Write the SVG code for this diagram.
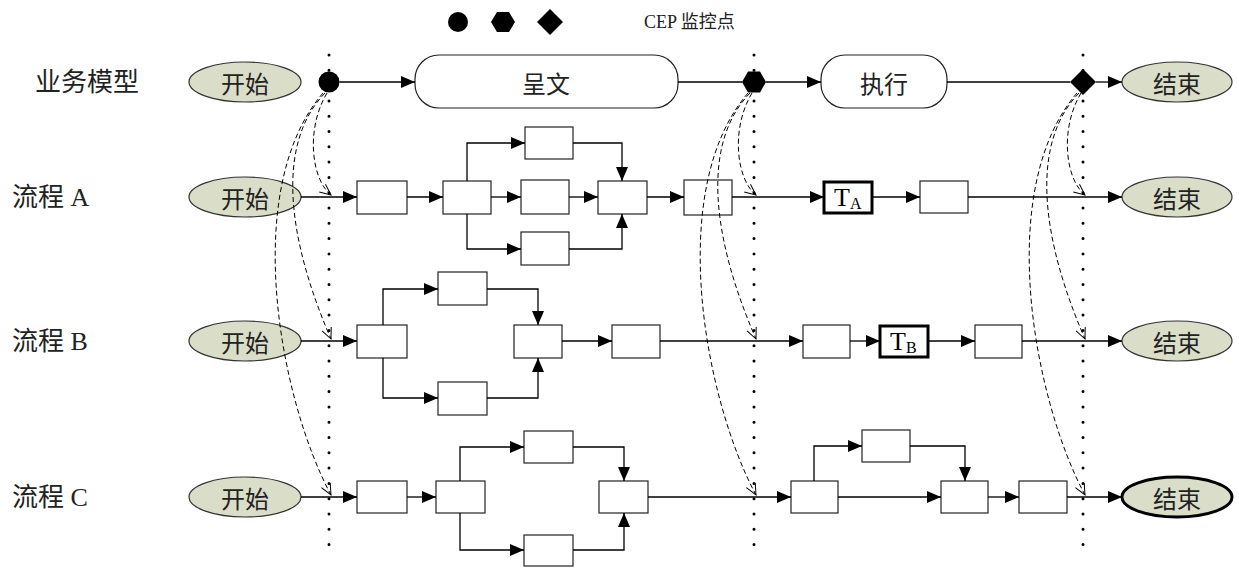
<svg xmlns="http://www.w3.org/2000/svg" width="1239" height="570" viewBox="0 0 1239 570">
<defs>
<style>
.box{fill:#fff;stroke:#222;stroke-width:1.2}
.thick{fill:#fff;stroke:#000;stroke-width:3}
.ell{fill:#dadec8;stroke:#333;stroke-width:1.2}
.rr{fill:#fff;stroke:#222;stroke-width:1.2}
.cn{font-family:'Noto Sans CJK SC',sans-serif;font-size:24px;fill:#222}
.lbl{font-family:'Liberation Serif','Noto Sans CJK SC',serif;font-size:26px;fill:#222}
.t{font-family:'Liberation Serif',serif;font-size:26px;fill:#000}
.ln{fill:none;stroke:#000;stroke-width:1.3}
.dash{fill:none;stroke:#000;stroke-width:1;stroke-dasharray:5 3}
.dot{stroke:#000;stroke-width:3;stroke-dasharray:0 15.3;stroke-linecap:round}
</style>
<marker id="ah" markerWidth="14" markerHeight="12" refX="14" refY="6" orient="auto" markerUnits="userSpaceOnUse"><path d="M0,0 L14,6 L0,12 z" fill="#000"/></marker>
<marker id="oa" markerWidth="12" markerHeight="10" refX="11" refY="5" orient="auto" markerUnits="userSpaceOnUse" overflow="visible"><path d="M0,0 L11,5 L0,10" fill="none" stroke="#000" stroke-width="1"/></marker>
</defs>
<rect width="1239" height="570" fill="#fff"/>

<g id="dotted-lines">
<line class="dot" x1="329" y1="55" x2="329" y2="546"/>
<line class="dot" x1="754" y1="55" x2="754" y2="546"/>
<line class="dot" x1="1083" y1="55" x2="1083" y2="546"/>
</g>

<g id="legend">
<circle cx="458" cy="22" r="10" fill="#000"/>
<polygon points="491,22 497,12 509,12 515,22 509,32 497,32" fill="#000"/>
<polygon points="550,9 563,22 550,35 537,22" fill="#000"/>
<text x="644" y="22" dominant-baseline="central" class="lbl" style="font-size:18px">CEP 监控点</text>
</g>

<g id="labels">
<text x="35" y="82" dominant-baseline="central" class="lbl">业务模型</text>
<text x="12" y="197" dominant-baseline="central" class="lbl">流程 A</text>
<text x="12" y="341" dominant-baseline="central" class="lbl">流程 B</text>
<text x="12" y="497" dominant-baseline="central" class="lbl">流程 C</text>
</g>

<g id="bm-start"><ellipse class="ell" cx="245" cy="82" rx="56" ry="20"/><text class="cn" x="245" y="82" text-anchor="middle" dominant-baseline="central">开始</text></g>
<g id="cp1"><circle cx="329" cy="82" r="10.5" fill="#000"/></g>
<g id="bm-chengwen"><rect class="rr" x="415" y="55" width="263" height="53" rx="24"/><text class="cn" x="546" y="82" text-anchor="middle" dominant-baseline="central">呈文</text></g>
<g id="cp2"><polygon points="742,82 748,71.5 760,71.5 766,82 760,92.5 748,92.5" fill="#000"/></g>
<g id="bm-zhixing"><rect class="rr" x="821" y="55" width="126" height="53" rx="24"/><text class="cn" x="884" y="82" text-anchor="middle" dominant-baseline="central">执行</text></g>
<g id="cp3"><polygon points="1083,69 1096,82 1083,95 1070,82" fill="#000"/></g>
<g id="bm-end"><ellipse class="ell" cx="1177" cy="82" rx="55" ry="20"/><text class="cn" x="1177" y="82" text-anchor="middle" dominant-baseline="central">结束</text></g>

<g id="a-start"><ellipse class="ell" cx="245" cy="197" rx="56" ry="20"/><text class="cn" x="245" y="197" text-anchor="middle" dominant-baseline="central">开始</text></g>
<g id="a1"><rect class="box" x="357" y="181" width="50" height="33"/></g>
<g id="a2"><rect class="box" x="443" y="181" width="48" height="33"/></g>
<g id="a3"><rect class="box" x="525" y="127" width="48" height="32"/></g>
<g id="a4"><rect class="box" x="521" y="180" width="48" height="34"/></g>
<g id="a5"><rect class="box" x="521" y="232" width="48" height="33"/></g>
<g id="a6"><rect class="box" x="598" y="181" width="49" height="33"/></g>
<g id="a7"><rect class="box" x="684" y="180" width="48" height="35"/></g>
<g id="a-ta"><rect class="thick" x="824" y="182" width="48" height="31"/><text class="t" x="834" y="206">T<tspan font-size="16" dy="3">A</tspan></text></g>
<g id="a8"><rect class="box" x="920" y="181" width="48" height="32"/></g>
<g id="a-end"><ellipse class="ell" cx="1177" cy="197" rx="55" ry="20"/><text class="cn" x="1177" y="197" text-anchor="middle" dominant-baseline="central">结束</text></g>

<g id="b-start"><ellipse class="ell" cx="245" cy="341" rx="56" ry="20"/><text class="cn" x="245" y="341" text-anchor="middle" dominant-baseline="central">开始</text></g>
<g id="b1"><rect class="box" x="357" y="325" width="50" height="33"/></g>
<g id="b2"><rect class="box" x="438" y="272" width="49" height="33"/></g>
<g id="b3"><rect class="box" x="438" y="382" width="49" height="33"/></g>
<g id="b4"><rect class="box" x="514" y="325" width="48" height="33"/></g>
<g id="b5"><rect class="box" x="612" y="325" width="48" height="33"/></g>
<g id="b6"><rect class="box" x="803" y="325" width="47" height="33"/></g>
<g id="b-tb"><rect class="thick" x="880" y="326" width="48" height="31"/><text class="t" x="890" y="350">T<tspan font-size="16" dy="3">B</tspan></text></g>
<g id="b7"><rect class="box" x="975" y="325" width="47" height="33"/></g>
<g id="b-end"><ellipse class="ell" cx="1177" cy="341" rx="55" ry="20"/><text class="cn" x="1177" y="341" text-anchor="middle" dominant-baseline="central">结束</text></g>

<g id="c-start"><ellipse class="ell" cx="245" cy="497" rx="56" ry="20"/><text class="cn" x="245" y="497" text-anchor="middle" dominant-baseline="central">开始</text></g>
<g id="c1"><rect class="box" x="357" y="481" width="50" height="32"/></g>
<g id="c2"><rect class="box" x="436" y="481" width="49" height="32"/></g>
<g id="c3"><rect class="box" x="524" y="431" width="49" height="32"/></g>
<g id="c4"><rect class="box" x="524" y="535" width="49" height="31"/></g>
<g id="c5"><rect class="box" x="599" y="481" width="49" height="32"/></g>
<g id="c6"><rect class="box" x="791" y="481" width="47" height="32"/></g>
<g id="c7"><rect class="box" x="862" y="430" width="48" height="32"/></g>
<g id="c8"><rect class="box" x="941" y="481" width="47" height="32"/></g>
<g id="c9"><rect class="box" x="1019" y="481" width="48" height="32"/></g>
<g id="c-end"><ellipse cx="1177" cy="497" rx="55" ry="20" fill="#dadec8" stroke="#000" stroke-width="3"/><text class="cn" x="1177" y="497" text-anchor="middle" dominant-baseline="central">结束</text></g>

<g id="connectors">
<path class="ln" d="M339.5 82 H415" marker-end="url(#ah)"/>
<path class="ln" d="M678 82 H742"/>
<path class="ln" d="M766 82 H821" marker-end="url(#ah)"/>
<path class="ln" d="M947 82 H1070"/>
<path class="ln" d="M1096 82 H1122" marker-end="url(#ah)"/>

<path class="ln" d="M301 197 H357" marker-end="url(#ah)"/>
<path class="ln" d="M407 197 H443" marker-end="url(#ah)"/>
<path class="ln" d="M467 181 V143 H525" marker-end="url(#ah)"/>
<path class="ln" d="M573 143 H622 V181" marker-end="url(#ah)"/>
<path class="ln" d="M491 197 H521" marker-end="url(#ah)"/>
<path class="ln" d="M569 197 H598" marker-end="url(#ah)"/>
<path class="ln" d="M467 214 V249 H521" marker-end="url(#ah)"/>
<path class="ln" d="M569 249 H622 V214" marker-end="url(#ah)"/>
<path class="ln" d="M647 197 H684" marker-end="url(#ah)"/>
<path class="ln" d="M732 197 H824" marker-end="url(#ah)"/>
<path class="ln" d="M872 197 H920" marker-end="url(#ah)"/>
<path class="ln" d="M968 197 H1122" marker-end="url(#ah)"/>

<path class="ln" d="M301 341 H357" marker-end="url(#ah)"/>
<path class="ln" d="M383 325 V289 H438" marker-end="url(#ah)"/>
<path class="ln" d="M487 289 H538 V325" marker-end="url(#ah)"/>
<path class="ln" d="M383 358 V398 H438" marker-end="url(#ah)"/>
<path class="ln" d="M487 398 H538 V358" marker-end="url(#ah)"/>
<path class="ln" d="M562 341 H612" marker-end="url(#ah)"/>
<path class="ln" d="M660 341 H803" marker-end="url(#ah)"/>
<path class="ln" d="M850 341 H880" marker-end="url(#ah)"/>
<path class="ln" d="M928 341 H975" marker-end="url(#ah)"/>
<path class="ln" d="M1022 341 H1122" marker-end="url(#ah)"/>

<path class="ln" d="M301 497 H357" marker-end="url(#ah)"/>
<path class="ln" d="M407 497 H436" marker-end="url(#ah)"/>
<path class="ln" d="M460 481 V447 H524" marker-end="url(#ah)"/>
<path class="ln" d="M573 447 H624 V481" marker-end="url(#ah)"/>
<path class="ln" d="M460 513 V550 H524" marker-end="url(#ah)"/>
<path class="ln" d="M573 550 H624 V513" marker-end="url(#ah)"/>
<path class="ln" d="M648 497 H791" marker-end="url(#ah)"/>
<path class="ln" d="M814 481 V446 H862" marker-end="url(#ah)"/>
<path class="ln" d="M910 446 H965 V481" marker-end="url(#ah)"/>
<path class="ln" d="M838 497 H941" marker-end="url(#ah)"/>
<path class="ln" d="M988 497 H1019" marker-end="url(#ah)"/>
<path class="ln" d="M1067 497 H1122" marker-end="url(#ah)"/>

<g id="cep-links-1">
<path class="dash" d="M327 93 C305 130 312 180 331 195" marker-end="url(#oa)"/>
<path class="dash" d="M325 93 C275 145 288 240 331 339" marker-end="url(#oa)"/>
<path class="dash" d="M323 93 C240 190 280 400 331 495" marker-end="url(#oa)"/>
</g>
<g id="cep-links-2">
<path class="dash" d="M752 93 C730 130 737 180 756 195" marker-end="url(#oa)"/>
<path class="dash" d="M750 93 C700 145 713 240 756 339" marker-end="url(#oa)"/>
<path class="dash" d="M748 93 C665 190 705 400 756 495" marker-end="url(#oa)"/>
</g>
<g id="cep-links-3">
<path class="dash" d="M1081 93 C1059 130 1066 180 1085 195" marker-end="url(#oa)"/>
<path class="dash" d="M1079 93 C1029 145 1042 240 1085 339" marker-end="url(#oa)"/>
<path class="dash" d="M1077 93 C994 190 1034 400 1085 495" marker-end="url(#oa)"/>
</g>
</g>
</svg>
